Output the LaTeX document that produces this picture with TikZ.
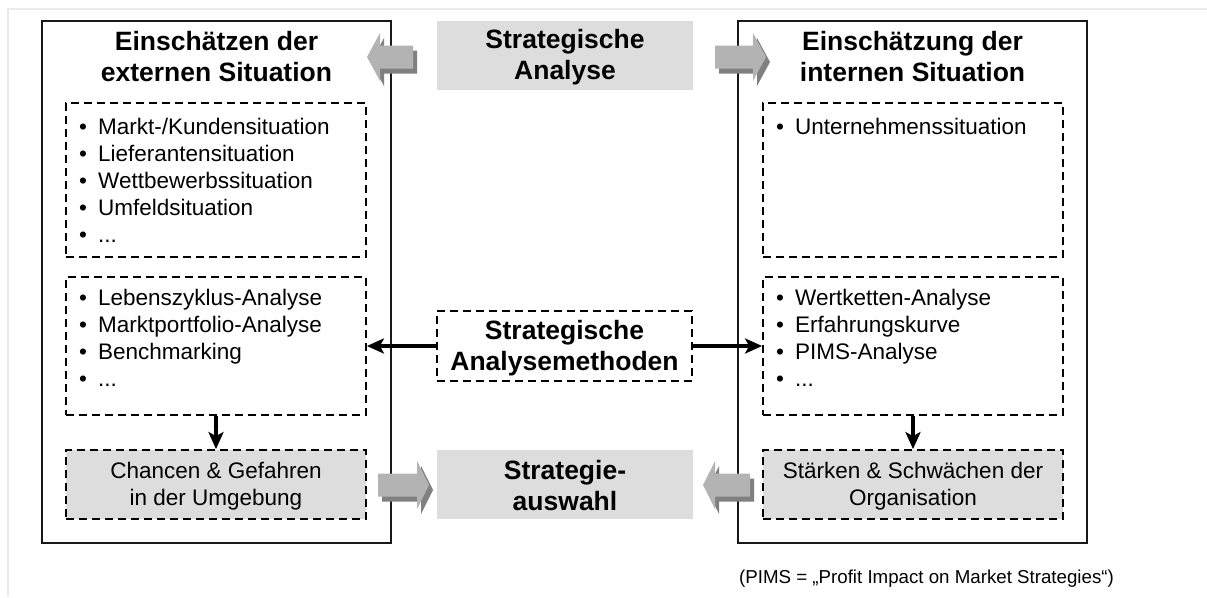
\documentclass[tikz,border=0pt]{standalone}
\usepackage{fontspec}
\setmainfont{Liberation Sans}
\usetikzlibrary{arrows.meta}
\definecolor{panelgray}{HTML}{DDDDDD}
\definecolor{arrowfront}{HTML}{B3B3B3}
\definecolor{arrowshade}{HTML}{808080}
\definecolor{framegray}{HTML}{EBEBEB}
\newcommand\headfont{\fontsize{26.5}{31}\selectfont\bfseries}
\newcommand\bodyfont{\fontsize{22.5}{27}\selectfont}
% list bullet followed by a fixed tab
\newcommand\itm{\makebox[19pt][l]{•}}
% block arrow: tip x, head base x, tail x, centre y
\newcommand\grayarrow[4]{%
  \fill[arrowshade,shift={(4,5)}] (#1,#4) -- (#2,#4-24) -- (#2,#4-11.5) -- (#3,#4-11.5)
     -- (#3,#4+11.5) -- (#2,#4+11.5) -- (#2,#4+24) -- cycle;
  \fill[arrowfront] (#1,#4) -- (#2,#4-24) -- (#2,#4-11.5) -- (#3,#4-11.5)
     -- (#3,#4+11.5) -- (#2,#4+11.5) -- (#2,#4+24) -- cycle;}
\begin{document}
\begin{tikzpicture}[x=1pt,y=-1pt,
  outerbox/.style={draw=black!90,line width=1.8pt},
  dashbox/.style={draw=black,line width=1.8pt,dash pattern=on 8pt off 5pt},
  headtext/.style={font=\headfont,align=center,inner sep=0pt},
  listtext/.style={font=\bodyfont,align=left,anchor=north west,inner sep=0pt},
  boxtext/.style={font=\bodyfont,align=center,inner sep=0pt},
  thickarrow/.style={line width=4pt,-{Stealth[length=17pt,width=15pt,inset=4pt]}},
  ]
\useasboundingbox (0,0) rectangle (1207,597);
\fill[white] (0,0) rectangle (1207,597);
% faint page frame
\draw[framegray,line width=2pt] (8,597) -- (8,9) -- (1207,9);

% outer panels
\draw[outerbox] (42,21) rectangle (391,543);
\draw[outerbox] (738,21) rectangle (1087,543);

% centre column
\fill[panelgray] (437,21) rectangle (693,90);
\node[headtext] (analyse) at (565,57) {Strategische\\Analyse};
\fill[panelgray] (437,450) rectangle (693,519);
\node[headtext] (auswahl) at (565,486) {Strategie-\\auswahl};
\node[dashbox,minimum width=255pt,minimum height=70pt,inner sep=0pt] (methoden) at (564.5,346) {};
\node[headtext] (methodentext) at (564.5,348) {Strategische\\Analysemethoden};

% panel headings
\node[headtext] (extern) at (216.5,57) {Einschätzen der\\externen Situation};
\node[headtext] (intern) at (912.5,57) {Einschätzung der\\internen Situation};

% left panel boxes
\node[dashbox,minimum width=300pt,minimum height=154pt,inner sep=0pt] (ext1) at (216,180) {};
\node[dashbox,minimum width=300pt,minimum height=138pt,inner sep=0pt] (ext2) at (216,346) {};
\node[dashbox,fill=panelgray,minimum width=300pt,minimum height=69pt,inner sep=0pt] (ext3) at (216,484.5) {};
\node[listtext] (extlist1) at (79,118) {\itm Markt-/Kundensituation\\\itm Lieferantensituation\\\itm Wettbewerbssituation\\\itm Umfeldsituation\\\itm ...};
\node[listtext] (extlist2) at (79,289) {\itm Lebenszyklus-Analyse\\\itm Marktportfolio-Analyse\\\itm Benchmarking\\\itm ...};
\node[boxtext] (chancen) at (216,486) {Chancen \& Gefahren\\in der Umgebung};

% right panel boxes
\node[dashbox,minimum width=300pt,minimum height=154pt,inner sep=0pt] (int1) at (913,180) {};
\node[dashbox,minimum width=300pt,minimum height=138pt,inner sep=0pt] (int2) at (913,346) {};
\node[dashbox,fill=panelgray,minimum width=300pt,minimum height=69pt,inner sep=0pt] (int3) at (913,484.5) {};
\node[listtext] (intlist1) at (776,118) {\itm Unternehmenssituation};
\node[listtext] (intlist2) at (776,289) {\itm Wertketten-Analyse\\\itm Erfahrungskurve\\\itm PIMS-Analyse\\\itm ...};
\node[boxtext] (staerken) at (913,486) {Stärken \& Schwächen der\\Organisation};

% connectors
\draw[thickarrow] (methoden.west) -- (ext2.east);
\draw[thickarrow] (methoden.east) -- (int2.west);
\draw[thickarrow] (ext2.south) -- (ext3.north);
\draw[thickarrow] (int2.south) -- (int3.north);

% gray block arrows
\grayarrow{367}{380}{413}{57}
\grayarrow{766}{753}{715}{57}
\grayarrow{429}{417}{378}{485}
\grayarrow{703}{715}{750}{485}

% footnote
\node[font=\fontsize{18.7}{22}\selectfont,anchor=base west,inner sep=0pt] (note) at (739,583) {(PIMS = „Profit Impact on Market Strategies“)};
\end{tikzpicture}
\end{document}
